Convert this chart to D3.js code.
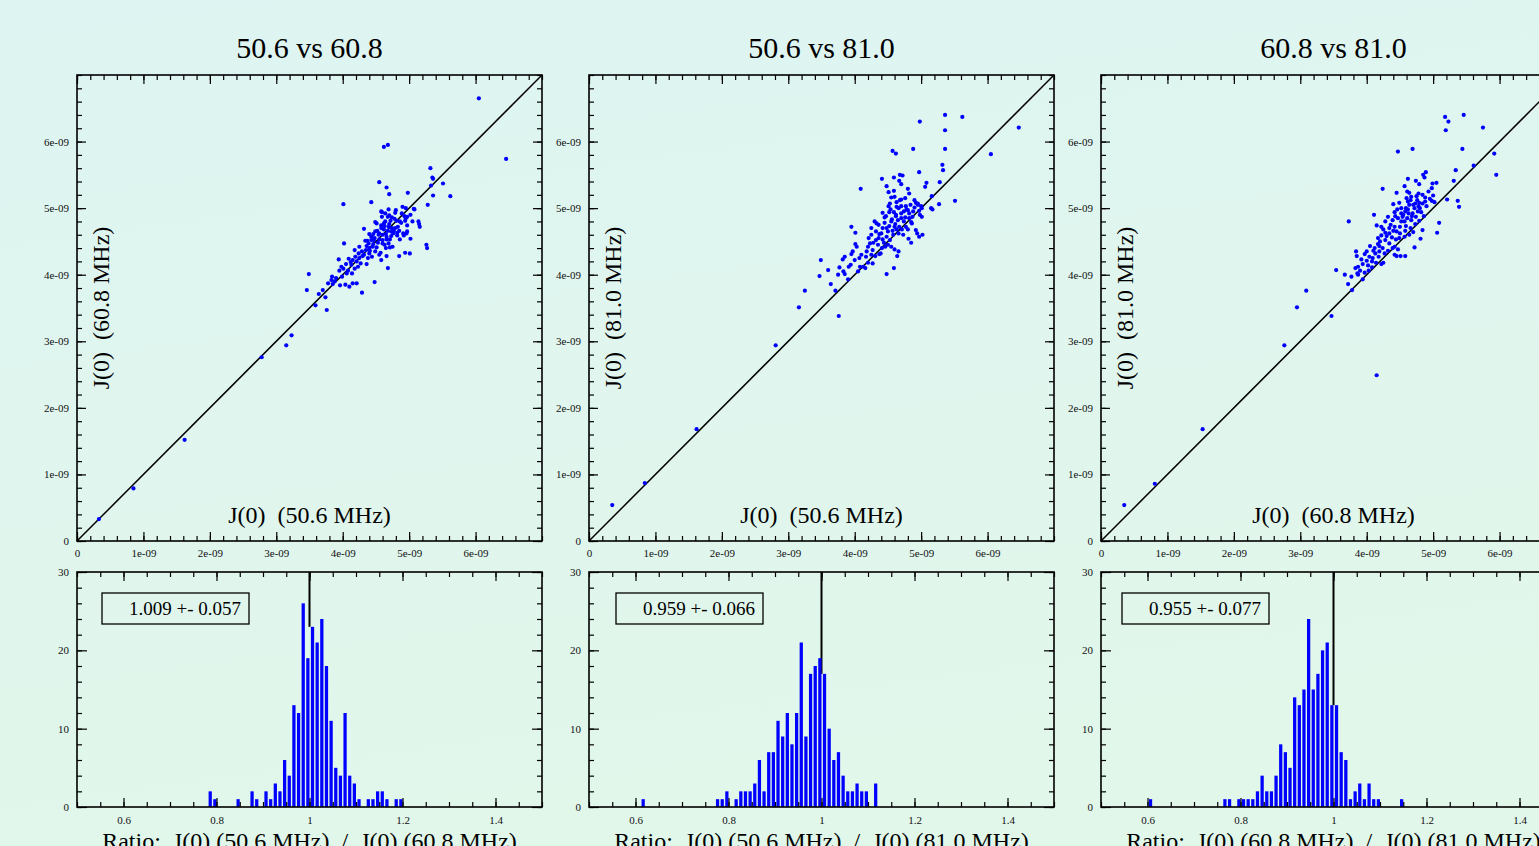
<!DOCTYPE html>
<html>
<head>
<meta charset="utf-8">
<script src="https://cdn.jsdelivr.net/npm/d3@7"></script>
<style>
  html, body { margin: 0; padding: 0; overflow: hidden; }
  body { width: 1539px; height: 846px; }
</style>
</head>
<body>
<svg id="chart" width="1539" height="846"></svg>
<script>
// values are in units of 1e-9 (as the tick labels read)
var titles = ["50.6 vs 60.8", "50.6 vs 81.0", "60.8 vs 81.0"];
var xLabels = ["J(0)  (50.6 MHz)", "J(0)  (50.6 MHz)", "J(0)  (60.8 MHz)"];
var yLabels = ["J(0)  (60.8 MHz)", "J(0)  (81.0 MHz)", "J(0)  (81.0 MHz)"];
var ratioLabels = [
  "Ratio:  J(0) (50.6 MHz)  /  J(0) (60.8 MHz)",
  "Ratio:  J(0) (50.6 MHz)  /  J(0) (81.0 MHz)",
  "Ratio:  J(0) (60.8 MHz)  /  J(0) (81.0 MHz)"
];
var ratioStats = ["1.009 +- 0.057", "0.959 +- 0.066", "0.955 +- 0.077"];

var scatterTicks = [0, 1, 2, 3, 4, 5, 6];
var ratioTicks = [0.6, 0.8, 1, 1.2, 1.4];
var countTicks = [0, 10, 20, 30];

var pts506v608 = [
  [0.33,0.33],[0.85,0.79],[1.62,1.52],[2.78,2.76],[3.15,2.94],[3.23,3.09],
  [6.05,6.65],[6.46,5.74],[4.62,5.92],[4.68,5.95],[5.32,5.60],[5.35,5.46],[5.36,5.44],[5.51,5.37],[5.33,5.34],
  [5.62,5.18],[5.36,5.19],[4.55,5.39],[4.66,5.31],[4.70,5.21],[4.98,5.23],[4.43,5.09],[4.01,5.06],[5.28,5.05],
  [4.90,5.02],[4.95,5.00],[5.07,4.99],[5.08,4.98],[4.69,4.98],[4.58,4.95],[4.80,4.97],[5.02,4.90],[4.93,4.88],
  [4.97,4.87],[4.59,4.87],[4.68,4.87],[4.74,4.86],[5.14,4.80],[5.15,4.76],[5.16,4.72],[5.05,4.80],[4.49,4.79],
  [4.51,4.77],[4.94,4.81],[4.81,4.81],[4.88,4.78],[4.97,4.74],[4.97,4.65],[4.96,4.62],[4.32,4.69],[4.62,4.77],
  [4.63,4.73],[4.58,4.70],[4.69,4.72],[4.74,4.70],[4.79,4.70],[4.83,4.72],[4.68,4.66],[4.73,4.65],[4.76,4.62],
  [4.85,4.66],[4.91,4.62],[4.92,4.59],[4.82,4.59],[4.65,4.61],[4.60,4.60],[4.54,4.60],[4.49,4.65],[4.40,4.61],
  [4.43,4.57],[4.48,4.55],[4.55,4.53],[4.60,4.52],[4.66,4.53],[4.71,4.53],[4.86,4.53],[5.02,4.54],[4.53,4.48],
  [4.46,4.46],[4.39,4.47],[4.34,4.51],[4.63,4.45],[4.69,4.47],[4.75,4.42],[4.45,4.42],[4.40,4.40],[4.35,4.37],
  [4.25,4.42],[4.18,4.37],[4.02,4.47],[4.29,4.35],[4.40,4.32],[4.49,4.35],[4.55,4.30],[4.65,4.40],[4.71,4.41],
  [4.94,4.33],[5.01,4.32],[5.26,4.45],[5.27,4.40],[4.85,4.28],[4.66,4.28],[4.58,4.22],[4.44,4.27],[4.38,4.25],
  [4.30,4.28],[4.25,4.25],[4.21,4.20],[4.15,4.22],[4.09,4.24],[4.27,4.17],[4.23,4.12],[4.36,4.16],[4.18,4.09],
  [4.13,4.15],[4.05,4.16],[3.98,4.12],[3.95,4.06],[4.01,4.09],[4.08,4.06],[4.14,4.02],[3.94,4.23],[4.68,4.10],
  [4.06,4.02],[3.99,3.97],[3.90,3.95],[3.84,3.97],[3.83,3.92],[3.88,3.90],[3.78,3.87],[3.85,3.86],[3.96,3.84],
  [4.04,3.85],[4.10,3.82],[4.15,3.87],[4.21,3.87],[4.48,3.89],[4.29,3.73],[3.49,4.01],[3.46,3.77],[3.64,3.71],
  [3.70,3.77],[3.74,3.66],[3.59,3.54],[3.76,3.47],[4.64,4.92],[4.59,4.94],
  [4.55,4.62],[4.62,4.68],[4.70,4.76],[4.78,4.84],[4.47,4.52],[4.36,4.43],[4.60,4.47],[4.77,4.66],[4.86,4.80],
  [4.66,4.57],[4.52,4.66],[4.43,4.52],[4.58,4.74],[4.72,4.81],[4.89,4.92],[4.41,4.36],[4.32,4.30],[4.24,4.32],
  [4.19,4.27],[4.12,4.19],[4.70,4.89],[4.79,4.93],[4.95,4.85],[4.64,4.80],[4.51,4.41],[4.57,4.33],[4.73,4.58],
  [4.82,4.63],[4.46,4.61],[4.37,4.51]
];

var pts506v810 = [
  [0.35,0.54],[0.84,0.87],[1.62,1.68],[2.81,2.94],
  [5.36,6.40],[5.62,6.37],[4.98,6.30],[5.36,6.17],[6.47,6.21],[6.05,5.81],[5.36,5.89],[4.88,5.89],[4.57,5.86],
  [4.62,5.82],[5.32,5.65],[5.33,5.57],[4.97,5.54],[4.41,5.44],[4.59,5.46],[4.68,5.50],[4.72,5.49],[4.67,5.41],
  [4.70,5.36],[5.08,5.38],[5.06,5.32],[5.28,5.39],[4.09,5.29],[4.48,5.33],[4.80,5.29],[4.82,5.22],[4.59,5.26],
  [4.51,5.24],[4.60,5.17],[4.55,5.16],[4.70,5.13],[5.16,5.18],[5.51,5.11],[4.92,5.08],[4.95,5.07],[5.27,5.06],
  [5.00,5.03],[4.53,5.07],[4.51,5.03],[4.63,5.09],[4.66,5.00],[4.70,5.03],[4.77,5.03],[4.80,4.97],[4.74,4.95],
  [4.82,4.92],[4.90,5.01],[4.97,4.96],[5.01,5.00],[5.15,5.00],[5.17,4.98],[4.42,4.93],[4.47,4.88],[4.59,4.94],
  [4.62,4.90],[4.56,4.83],[4.65,4.82],[4.70,4.85],[4.76,4.86],[4.67,4.72],[4.61,4.76],[4.63,4.68],[4.52,4.73],
  [4.57,4.66],[4.50,4.65],[4.30,4.80],[4.33,4.77],[4.36,4.75],[4.25,4.70],[4.45,4.78],[4.98,4.90],[5.01,4.87],
  [4.87,4.87],[4.85,4.79],[4.92,4.67],[4.94,4.62],[4.97,4.57],[5.02,4.60],[4.86,4.77],[4.77,4.72],[4.80,4.68],
  [4.71,4.68],[3.95,4.72],[4.01,4.63],[4.32,4.65],[4.37,4.61],[4.48,4.57],[4.53,4.52],[4.42,4.53],[4.32,4.52],
  [4.25,4.60],[4.21,4.55],[4.23,4.47],[4.20,4.42],[4.27,4.37],[4.35,4.45],[4.41,4.40],[4.46,4.42],[4.55,4.42],
  [4.60,4.38],[4.66,4.35],[4.64,4.28],[4.81,4.54],[4.85,4.48],[4.01,4.46],[4.03,4.42],[3.97,4.35],[3.95,4.31],
  [3.85,4.27],[3.82,4.23],[4.00,4.22],[4.07,4.25],[4.17,4.27],[4.25,4.30],[4.31,4.28],[4.37,4.31],[4.20,4.18],
  [4.27,4.17],[4.13,4.12],[4.16,4.10],[4.08,4.12],[3.94,4.15],[3.91,4.12],[3.83,4.05],[3.85,4.01],[3.75,4.00],
  [3.77,4.11],[3.60,4.07],[3.49,4.22],[3.47,3.98],[3.64,3.86],[3.71,3.76],[3.90,3.93],[4.05,4.05],[4.48,4.01],
  [4.59,4.10],[3.25,3.76],[3.16,3.51],[3.76,3.38],[4.39,4.32],[4.44,4.48],
  [4.55,4.80],[4.62,4.88],[4.70,4.92],[4.78,4.98],[4.84,5.05],[4.40,4.62],[4.48,4.70],[4.58,4.60],[4.66,4.62],
  [4.74,4.80],[4.88,4.95],[4.52,4.94],[4.45,4.86],[4.36,4.55],[4.28,4.48],[4.18,4.35],[4.10,4.30],[4.68,5.12],
  [4.76,5.15],[4.90,5.12],[4.63,5.02],[4.54,4.98],[4.42,4.70],[4.50,4.45],[4.73,4.60],[4.60,4.72],[4.82,4.85],
  [4.95,5.05]
];

var pts608v810 = [
  [0.35,0.54],[0.81,0.86],[1.53,1.68],[2.76,2.94],[4.15,2.49],
  [5.18,6.37],[5.23,6.30],[5.46,6.40],[5.19,6.17],[5.75,6.21],[4.69,5.89],[4.47,5.85],[5.44,5.89],[5.92,5.82],
  [5.95,5.50],[5.61,5.64],[5.34,5.57],[5.31,5.41],[5.21,5.13],[5.37,5.11],[5.39,5.02],[5.09,4.78],[5.06,4.63],
  [4.89,5.54],[4.85,5.50],[4.87,5.46],[4.74,5.41],[4.62,5.44],[4.79,5.36],[4.98,5.30],[4.99,5.37],[5.05,5.38],
  [4.57,5.33],[4.24,5.29],[4.45,5.23],[4.61,5.25],[4.64,5.23],[4.75,5.18],[4.88,5.16],[4.95,5.14],[5.00,5.19],
  [5.02,5.09],[4.90,5.03],[4.84,5.07],[4.79,5.08],[4.73,5.07],[4.67,5.17],[4.60,5.15],[4.49,5.08],[4.40,5.06],
  [4.42,4.94],[4.52,5.00],[4.59,5.00],[4.64,5.05],[4.72,5.00],[4.77,4.95],[4.69,4.92],[4.63,4.92],[4.58,4.95],
  [4.54,4.87],[4.61,4.85],[4.67,4.82],[4.74,4.87],[4.79,4.81],[4.73,4.76],[4.66,4.70],[4.59,4.73],[4.52,4.80],
  [4.47,4.85],[4.39,4.82],[4.32,4.87],[4.28,4.80],[4.15,4.74],[4.22,4.72],[4.11,4.90],[3.73,4.80],[4.34,4.70],
  [4.42,4.72],[4.45,4.65],[4.50,4.62],[4.58,4.66],[4.64,4.60],[4.57,4.57],[4.84,4.67],[4.81,4.54],[4.72,4.41],
  [4.49,4.55],[4.44,4.53],[4.38,4.56],[4.34,4.62],[4.28,4.63],[4.22,4.59],[4.17,4.55],[4.28,4.52],[4.34,4.47],
  [4.42,4.42],[4.39,4.40],[4.47,4.38],[4.32,4.36],[4.24,4.40],[4.19,4.43],[4.17,4.46],[4.12,4.40],[4.05,4.43],
  [4.19,4.35],[4.27,4.32],[4.45,4.28],[4.51,4.28],[4.58,4.28],[4.42,4.30],[4.13,4.32],[4.18,4.27],[4.09,4.25],
  [4.04,4.27],[3.97,4.31],[3.84,4.35],[3.85,4.28],[3.92,4.23],[4.00,4.21],[4.08,4.20],[4.14,4.18],[4.22,4.16],
  [4.25,4.18],[4.08,4.11],[4.02,4.14],[3.94,4.16],[3.87,4.12],[3.83,4.10],[3.90,4.06],[3.97,4.03],[4.03,4.06],
  [3.86,4.02],[3.87,4.00],[3.77,3.97],[3.67,4.00],[3.54,4.07],[3.72,3.86],[3.94,3.93],[3.78,3.77],[3.09,3.76],
  [2.95,3.51],[3.47,3.38],[4.98,5.11],[4.78,5.22],[4.78,5.03],[4.82,4.94],
  [4.55,4.90],[4.62,4.98],[4.70,5.05],[4.76,5.12],[4.84,5.20],[4.50,4.72],[4.40,4.66],[4.30,4.58],[4.20,4.50],
  [4.68,4.88],[4.88,5.10],[4.93,5.25],[4.62,5.10],[4.52,4.92],[4.36,4.75],[4.25,4.68],[4.46,4.98],[4.70,4.64],
  [4.10,4.36],[4.00,4.35],[4.80,5.00],[4.57,4.80],[4.66,5.12],[4.43,4.88],[4.86,4.88]
];

// histogram bins of width 0.01: [bin start, count]
var hist506v608 = [
  [0.78,2],[0.79,1],[0.84,1],[0.87,2],[0.88,1],[0.90,2],[0.91,1],[0.92,3],[0.93,2],[0.94,6],[0.95,4],
  [0.96,13],[0.97,12],[0.98,26],[0.99,19],[1.00,23],[1.01,21],[1.02,24],[1.03,18],[1.04,11],[1.05,5],
  [1.06,4],[1.07,12],[1.08,4],[1.09,3],[1.10,1],[1.12,1],[1.13,1],[1.14,2],[1.15,2],[1.16,1],[1.18,1],[1.19,1]
];
var hist506v810 = [
  [0.61,1],[0.77,1],[0.78,1],[0.79,2],[0.81,1],[0.82,2],[0.83,2],[0.84,2],[0.85,3],[0.86,6],[0.87,2],
  [0.88,7],[0.89,7],[0.90,11],[0.91,9],[0.92,12],[0.93,8],[0.94,12],[0.95,21],[0.96,9],[0.97,17],[0.98,18],
  [0.99,19],[1.00,17],[1.01,10],[1.02,6],[1.03,7],[1.04,4],[1.05,2],[1.06,2],[1.07,3],[1.08,2],[1.09,2],[1.11,3]
];
var hist608v810 = [
  [0.60,1],[0.76,1],[0.77,1],[0.79,1],[0.80,1],[0.81,1],[0.82,1],[0.83,2],[0.84,4],[0.85,2],[0.86,2],
  [0.87,4],[0.88,8],[0.89,7],[0.90,5],[0.91,14],[0.92,13],[0.93,15],[0.94,24],[0.95,15],[0.96,17],[0.97,20],
  [0.98,21],[0.99,13],[1.00,13],[1.01,7],[1.02,6],[1.03,1],[1.04,2],[1.05,3],[1.06,1],[1.07,3],[1.08,1],
  [1.09,1],[1.14,1]
];

var scatterSets = [pts506v608, pts506v810, pts608v810];
var histSets = [hist506v608, hist506v810, hist608v810];

//-------------------------------
// layout
var serif = "'Liberation Serif', 'Times New Roman', serif";
var panelStep = 512, panelX0 = 77, panelW = 465;
var scTop = 75, scH = 466;
var hiTop = 572, hiH = 235;
var boxOffsets = [25, 27, 21];

var svg = d3.select("#chart");

var defs = svg.append("defs");
var grad = defs.append("linearGradient").attr("id", "bg")
  .attr("x1", 0).attr("y1", 0).attr("x2", 0.25).attr("y2", 1);
grad.append("stop").attr("offset", "0%").attr("stop-color", "#def4f2");
grad.append("stop").attr("offset", "100%").attr("stop-color", "#e1f7ea");
svg.append("rect").attr("width", 1539).attr("height", 846).attr("fill", "url(#bg)");

function axisOn(g, gen, scale, transform, values, size, fmt, pad) {
  var ax = gen(scale).tickValues(values).tickSize(-size).tickPadding(pad || 0)
    .tickFormat(fmt || function() { return ""; });
  var a = g.append("g").attr("transform", transform).call(ax);
  a.select(".domain").remove();
  a.attr("font-family", serif).attr("font-size", 11);
  a.selectAll("line").attr("stroke", "#000").attr("stroke-width", 1.2);
  a.selectAll("text").attr("fill", "#111");
  return a;
}

function steps(a, b, s) {
  var out = [];
  for (var k = 0; a + k * s <= b + 1e-9; k++) out.push(+(a + k * s).toFixed(4));
  return out;
}

function Panel(i) {
  var vm = this;
  vm._i = i;
  vm._left = panelX0 + panelStep * i;
  vm._cx = vm._left + panelW / 2;
}

Panel.prototype.drawScatter = function(pts) {
  var vm = this;
  var g = svg.append("g");
  var x = d3.scaleLinear().domain([0, 7]).range([vm._left, vm._left + panelW]);
  var y = d3.scaleLinear().domain([0, 7]).range([scTop + scH, scTop]);
  var fmt = function(d) { return d === 0 ? "0" : d + "e-09"; };

  g.append("text").attr("x", vm._cx).attr("y", 58).attr("text-anchor", "middle")
    .attr("font-family", serif).attr("font-size", 30).text(titles[vm._i]);

  g.append("line")
    .attr("x1", x(0)).attr("y1", y(0)).attr("x2", x(7)).attr("y2", y(7))
    .attr("stroke", "#000").attr("stroke-width", 1.5);

  g.append("g").selectAll("circle").data(pts).enter().append("circle")
    .attr("cx", function(d) { return x(d[0]); })
    .attr("cy", function(d) { return y(d[1]); })
    .attr("r", 2.1).attr("fill", "#0000ff");

  var minor = steps(0, 7, 0.2);
  axisOn(g, d3.axisBottom, x, "translate(0," + y(0) + ")", minor, 5);
  axisOn(g, d3.axisTop, x, "translate(0," + y(7) + ")", minor, 5);
  axisOn(g, d3.axisLeft, y, "translate(" + x(0) + ",0)", minor, 5);
  axisOn(g, d3.axisRight, y, "translate(" + x(7) + ",0)", minor, 5);
  axisOn(g, d3.axisBottom, x, "translate(0," + y(0) + ")", scatterTicks, 9, fmt, 8);
  axisOn(g, d3.axisTop, x, "translate(0," + y(7) + ")", scatterTicks, 9);
  axisOn(g, d3.axisLeft, y, "translate(" + x(0) + ",0)", scatterTicks, 9, fmt, 8);
  axisOn(g, d3.axisRight, y, "translate(" + x(7) + ",0)", scatterTicks, 9);

  g.append("rect").attr("x", x(0)).attr("y", y(7)).attr("width", panelW).attr("height", scH)
    .attr("fill", "none").attr("stroke", "#000").attr("stroke-width", 1.6);

  g.append("text").attr("x", vm._cx).attr("y", 523).attr("text-anchor", "middle")
    .attr("font-family", serif).attr("font-size", 24).style("white-space", "pre")
    .text(xLabels[vm._i]);
  g.append("text").attr("transform", "translate(" + (vm._left + 32) + "," + 308 + ") rotate(-90)")
    .attr("text-anchor", "middle").attr("font-family", serif).attr("font-size", 24)
    .style("white-space", "pre").text(yLabels[vm._i]);
  return vm;
};

Panel.prototype.drawHist = function(bins) {
  var vm = this;
  var g = svg.append("g");
  var x = d3.scaleLinear().domain([0.5, 1.5]).range([vm._left, vm._left + panelW]);
  var y = d3.scaleLinear().domain([0, 30]).range([hiTop + hiH, hiTop]);

  var atOne = bins.filter(function(d) { return Math.abs(d[0] - 1) < 1e-6; })[0];
  g.append("line").attr("x1", x(1)).attr("x2", x(1)).attr("y1", y(30)).attr("y2", y(atOne ? atOne[1] : 0))
    .attr("stroke", "#000").attr("stroke-width", 2);

  g.append("g").selectAll("rect").data(bins).enter().append("rect")
    .attr("x", function(d) { return x(d[0] + 0.003); })
    .attr("width", x(0.507) - x(0.5))
    .attr("y", function(d) { return y(d[1]); })
    .attr("height", function(d) { return y(0) - y(d[1]); })
    .attr("fill", "#0000ff");

  var minorX = steps(0.5, 1.5, 0.05), minorY = steps(0, 30, 2);
  var fx = function(d) { return d3.format("")(d); };
  axisOn(g, d3.axisBottom, x, "translate(0," + y(0) + ")", minorX, 5);
  axisOn(g, d3.axisTop, x, "translate(0," + y(30) + ")", minorX, 5);
  axisOn(g, d3.axisLeft, y, "translate(" + x(0.5) + ",0)", minorY, 5);
  axisOn(g, d3.axisRight, y, "translate(" + x(1.5) + ",0)", minorY, 5);
  axisOn(g, d3.axisBottom, x, "translate(0," + y(0) + ")", ratioTicks, 9, fx, 9);
  axisOn(g, d3.axisTop, x, "translate(0," + y(30) + ")", ratioTicks, 9);
  axisOn(g, d3.axisLeft, y, "translate(" + x(0.5) + ",0)", countTicks, 10, fx, 8);
  axisOn(g, d3.axisRight, y, "translate(" + x(1.5) + ",0)", countTicks, 10);

  g.append("rect").attr("x", x(0.5)).attr("y", y(30)).attr("width", panelW).attr("height", hiH)
    .attr("fill", "none").attr("stroke", "#000").attr("stroke-width", 1.6);

  var bx = vm._left + boxOffsets[vm._i];
  g.append("rect").attr("x", bx).attr("y", 593).attr("width", 147).attr("height", 31)
    .attr("fill", "none").attr("stroke", "#000").attr("stroke-width", 1.3);
  g.append("text").attr("x", bx + 139).attr("y", 615).attr("text-anchor", "end")
    .attr("font-family", serif).attr("font-size", 19).text(ratioStats[vm._i]);

  g.append("text").attr("x", vm._cx).attr("y", 849).attr("text-anchor", "middle")
    .attr("font-family", serif).attr("font-size", 24).style("white-space", "pre")
    .text(ratioLabels[vm._i]);
  return vm;
};

[0, 1, 2].forEach(function(i) {
  new Panel(i).drawScatter(scatterSets[i]).drawHist(histSets[i]);
});
</script>
</body>
</html>
